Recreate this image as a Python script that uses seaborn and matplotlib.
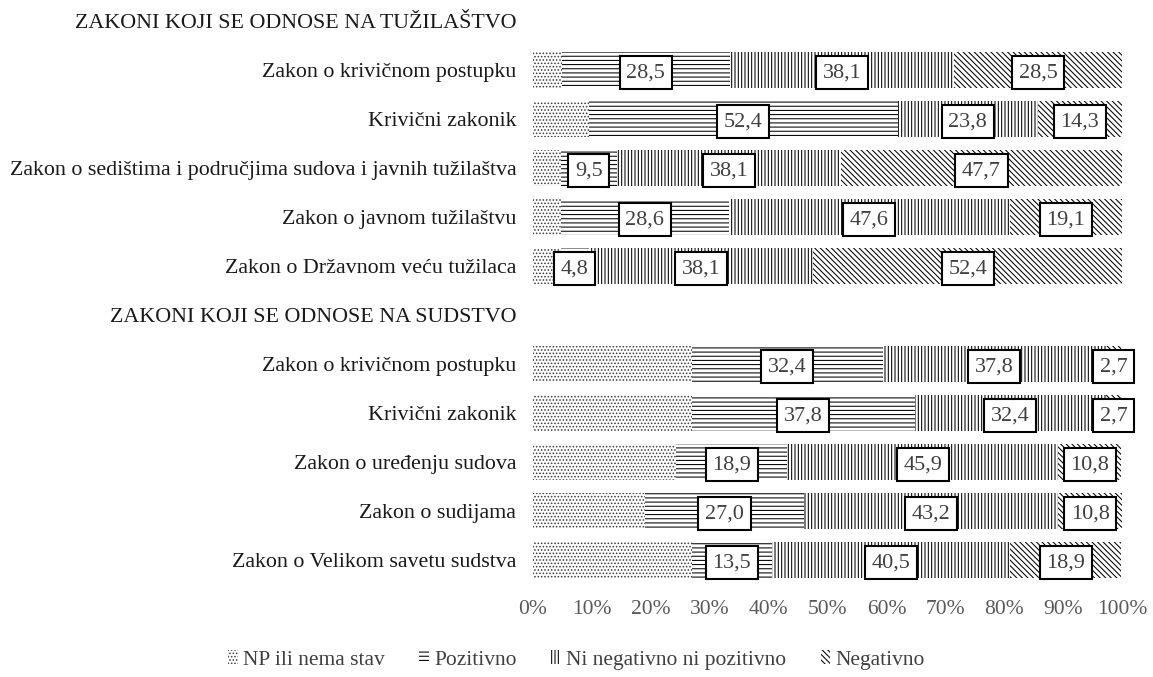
import pandas as pd
import matplotlib
matplotlib.use("Agg")
import matplotlib.pyplot as plt
import matplotlib.patches as mpatches
import seaborn as sns

# --- DATA ---
HEADER_TUZ = "ZAKONI KOJI SE ODNOSE NA TUŽILAŠTVO"
HEADER_SUD = "ZAKONI KOJI SE ODNOSE NA SUDSTVO"

laws_tuz = [
    "Zakon o krivičnom postupku",
    "Krivični zakonik",
    "Zakon o sedištima i područjima sudova i javnih tužilaštva",
    "Zakon o javnom tužilaštvu",
    "Zakon o Državnom veću tužilaca",
]
laws_sud = [
    "Zakon o krivičnom postupku",
    "Krivični zakonik",
    "Zakon o uređenju sudova",
    "Zakon o sudijama",
    "Zakon o Velikom savetu sudstva",
]

np_stav_tuz = [4.9, 9.5, 4.7, 4.7, 4.7]
pozitivno_tuz = [28.5, 52.4, 9.5, 28.6, 4.8]
neutralno_tuz = [38.1, 23.8, 38.1, 47.6, 38.1]
negativno_tuz = [28.5, 14.3, 47.7, 19.1, 52.4]

np_stav_sud = [27.0, 27.0, 24.3, 19.0, 27.0]
pozitivno_sud = [32.4, 37.8, 18.9, 27.0, 13.5]
neutralno_sud = [37.8, 32.4, 45.9, 43.2, 40.5]
negativno_sud = [2.7, 2.7, 10.8, 10.8, 18.9]

SERIES = ["NP ili nema stav", "Pozitivno", "Ni negativno ni pozitivno", "Negativno"]
HATCHES = [".....", "----", "|||||", "\\" * 6]
HATCH_COLORS = ["#404040", "black", "black", "black"]
X_TICKS = list(range(0, 101, 10))


def build_table():
    labels = [HEADER_TUZ] + laws_tuz + [HEADER_SUD] + laws_sud
    z = [0.0]
    cols = {
        SERIES[0]: z + np_stav_tuz + z + np_stav_sud,
        SERIES[1]: z + pozitivno_tuz + z + pozitivno_sud,
        SERIES[2]: z + neutralno_tuz + z + neutralno_sud,
        SERIES[3]: z + negativno_tuz + z + negativno_sud,
    }
    df = pd.DataFrame(cols)
    df["label"] = labels
    df["row"] = [f"r{i}" for i in range(len(labels))]
    df["is_header"] = [True] + [False] * 5 + [True] + [False] * 5
    return df


def main():
    sns.set_theme(style="white")
    plt.rcParams["font.family"] = ["Liberation Serif", "DejaVu Serif"]
    plt.rcParams["hatch.linewidth"] = 0.75

    df = build_table()
    order = list(df["row"])

    fig = plt.figure(figsize=(11.53, 6.77), dpi=100)
    ax = fig.add_axes([533 / 1153, 1 - 587 / 677, (1122 - 533) / 1153, 586.5 / 677])

    # stacked bars: draw cumulative totals from the longest to the shortest
    cum = df[SERIES].cumsum(axis=1)
    for k in range(len(SERIES) - 1, -1, -1):
        n_before = len(ax.patches)
        sns.barplot(data=cum.assign(row=df["row"]), x=SERIES[k], y="row", order=order,
                    orient="h", color="white", width=0.72, errorbar=None, ax=ax)
        for p in ax.patches[n_before:]:
            p.set_facecolor("white")
            p.set_edgecolor(HATCH_COLORS[k])
            p.set_linewidth(0)
            p.set_hatch(HATCHES[k])

    # value boxes on every series except "NP ili nema stav"
    for i, r in df.iterrows():
        if r["is_header"]:
            continue
        left = r[SERIES[0]]
        for s in SERIES[1:]:
            v = r[s]
            ax.text(left + v / 2, i, f"{v:.1f}".replace(".", ","), ha="center", va="center_baseline",
                    fontsize=16, color="#404040",
                    bbox=dict(boxstyle="square,pad=0.3", fc="white", ec="black", lw=1.5))
            left += v

    ax.set_xlim(0, 100)
    ax.set_ylim(11.55, -0.42)
    ax.set_xticks(X_TICKS)
    ax.set_xticklabels([f"{t}%" for t in X_TICKS])
    ax.set_yticks(range(len(df)))
    ax.set_yticklabels(df["label"])
    ax.set_xlabel("")
    ax.set_ylabel("")
    ax.tick_params(axis="x", length=0, pad=9, labelsize=15.5, labelcolor="#595959")
    ax.tick_params(axis="y", length=0, pad=12, labelsize=15.8, labelcolor="#1a1a1a")
    for sp in ax.spines.values():
        sp.set_visible(False)
    ax.grid(False)

    handles = [mpatches.Patch(facecolor="white", edgecolor=c, hatch=h, linewidth=0, label=s)
               for s, h, c in zip(SERIES, HATCHES, HATCH_COLORS)]
    fig.legend(handles=handles, loc="center", bbox_to_anchor=(0.5, 1 - 660 / 677), ncol=4,
               frameon=False, fontsize=15.5, handlelength=0.45, handleheight=0.6,
               handletextpad=0.25, columnspacing=1.6, labelcolor="#404040")

    fig.savefig("out.png", dpi=100)


if __name__ == "__main__":
    main()
